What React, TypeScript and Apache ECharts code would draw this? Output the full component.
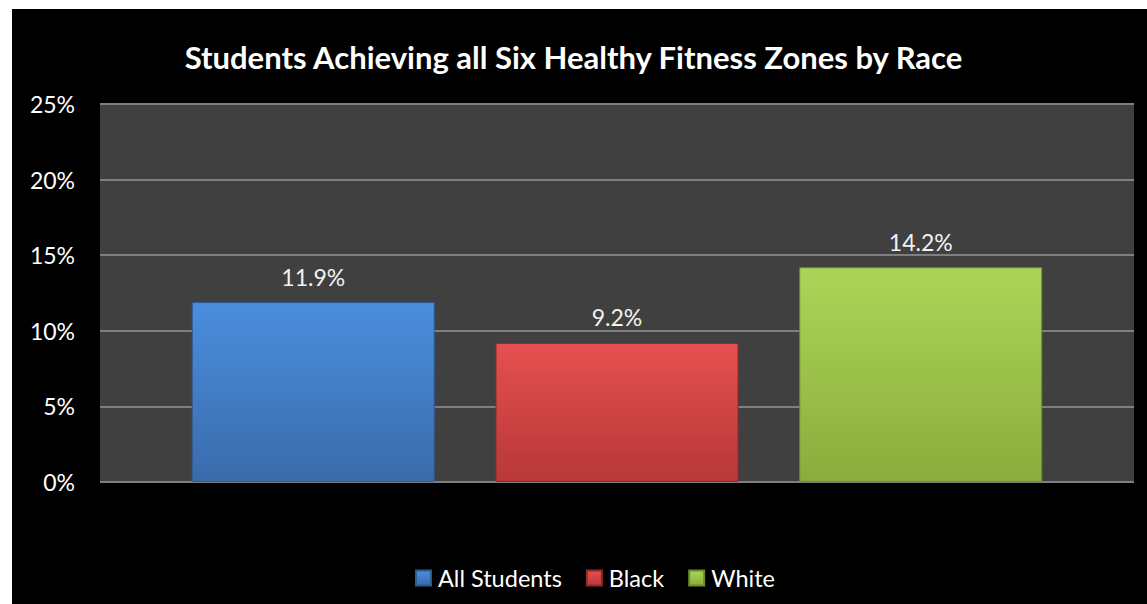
import React, { useEffect, useRef } from "react";
import * as echarts from "echarts";

const chartTitle = "Students Achieving all Six Healthy Fitness Zones by Race";
const seriesNames = ["All Students", "Black", "White"];
const seriesValues = [11.9, 9.2, 14.2];
const categories = [""];
const yTicks = { min: 0, max: 25, interval: 5 };

const gradients = [
  ["#4a8ede", "#3a6bab"],
  ["#e65050", "#b83838"],
  ["#acd558", "#8aac3c"],
];
const borders = ["#2f5a90", "#8e2a2a", "#6e8a2e"];

const FONT = "Lato, 'Open Sans', sans-serif";

export default function App() {
  const ref = useRef<HTMLDivElement>(null);
  useEffect(() => {
    if (!ref.current) return;
    const chart = echarts.init(ref.current, null, { renderer: "svg" });
    const grad = (i: number) =>
      new echarts.graphic.LinearGradient(0, 0, 0, 1, [
        { offset: 0, color: gradients[i][0] },
        { offset: 1, color: gradients[i][1] },
      ]);
    chart.setOption({
      animation: false,
      backgroundColor: "#ffffff",
      graphic: [
        {
          type: "rect",
          z: -10,
          shape: { x: 12, y: 9, width: 1135, height: 595 },
          style: { fill: "#000000" },
          silent: true,
        },
      ],
      title: {
        text: chartTitle,
        left: "center",
        top: 36,
        textStyle: {
          color: "#ffffff",
          fontFamily: FONT,
          fontWeight: "bold",
          fontSize: 31,
        },
      },
      legend: {
        left: 410,
        top: 561,
        icon: "rect",
        itemWidth: 15,
        itemHeight: 15,
        itemGap: 24,
        textStyle: { color: "#ffffff", fontFamily: FONT, fontSize: 23.5, padding: [0, 0, 0, 2] },
        data: seriesNames,
      },
      grid: {
        left: 100,
        top: 104,
        width: 1034,
        height: 378,
        show: true,
        backgroundColor: "#404040",
        borderWidth: 0,
        containLabel: false,
      },
      xAxis: {
        type: "category",
        data: categories,
        axisLine: { show: false },
        axisTick: { show: false },
        axisLabel: { show: false },
      },
      yAxis: {
        type: "value",
        min: yTicks.min,
        max: yTicks.max,
        interval: yTicks.interval,
        axisLine: { show: false },
        axisTick: { show: false },
        axisLabel: {
          formatter: "{value}%",
          color: "#ffffff",
          fontFamily: FONT,
          fontSize: 23,
          margin: 25,
        },
        splitLine: { lineStyle: { color: "#7f7f7f", width: 2 } },
      },
      series: seriesNames.map((name, i) => ({
        name,
        type: "bar",
        data: [seriesValues[i]],
        barWidth: 243,
        barGap: "25%",
        itemStyle: {
          color: grad(i),
          borderColor: borders[i],
          borderWidth: 1,
        },
        label: {
          show: true,
          position: "top",
          distance: 14,
          formatter: (p: any) => p.value.toFixed(1) + "%",
          color: "#f2f2f2",
          fontFamily: FONT,
          fontSize: 23,
        },
      })),
    });
    return () => chart.dispose();
  }, []);
  return (
    <div
      ref={ref}
      style={{ position: "absolute", left: 0, top: 0, width: 1147, height: 604 }}
    />
  );
}
